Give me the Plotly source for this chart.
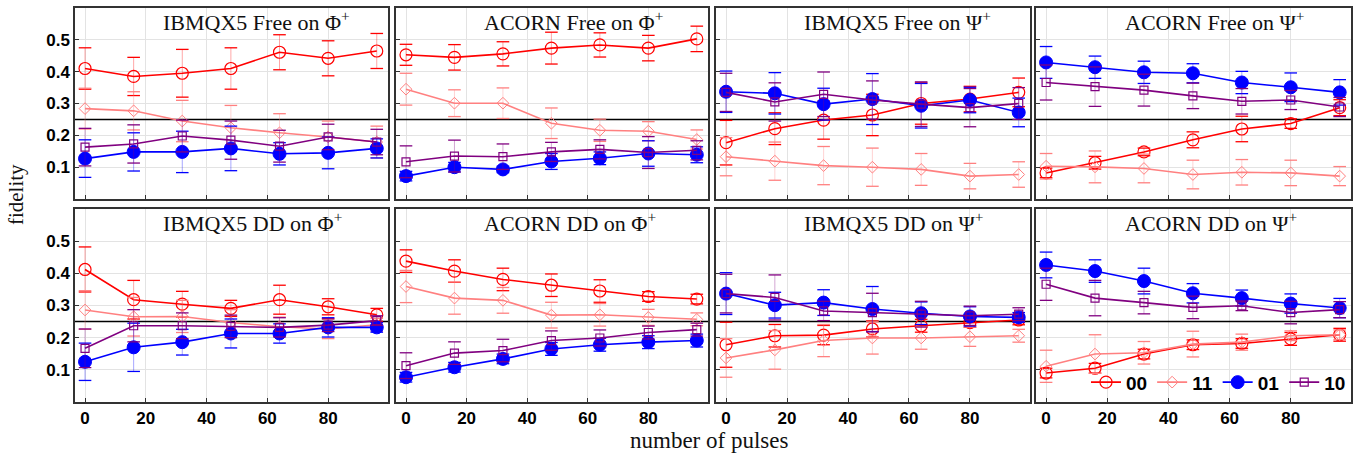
import plotly.graph_objects as go

pulses = [0, 16, 32, 48, 64, 80, 96]

panel_titles = [
    "IBMQX5 Free on Φ<sup>+</sup>", "ACORN Free on Φ<sup>+</sup>",
    "IBMQX5 Free on Ψ<sup>+</sup>", "ACORN Free on Ψ<sup>+</sup>",
    "IBMQX5 DD on Φ<sup>+</sup>", "ACORN DD on Φ<sup>+</sup>",
    "IBMQX5 DD on Ψ<sup>+</sup>", "ACORN DD on Ψ<sup>+</sup>",
]

fid_00 = [
    [0.410, 0.385, 0.395, 0.410, 0.461, 0.442, 0.465],
    [0.453, 0.445, 0.456, 0.474, 0.484, 0.474, 0.503],
    [0.177, 0.221, 0.248, 0.264, 0.300, 0.314, 0.335],
    [0.082, 0.114, 0.148, 0.186, 0.220, 0.237, 0.287],
    [0.412, 0.318, 0.304, 0.291, 0.318, 0.296, 0.271],
    [0.438, 0.407, 0.381, 0.363, 0.345, 0.328, 0.320],
    [0.178, 0.206, 0.208, 0.227, 0.237, 0.247, 0.255],
    [0.090, 0.105, 0.149, 0.178, 0.182, 0.196, 0.209],
]
err_00 = [
    [0.065, 0.060, 0.075, 0.065, 0.055, 0.055, 0.055],
    [0.033, 0.040, 0.038, 0.050, 0.038, 0.040, 0.040],
    [0.070, 0.050, 0.060, 0.065, 0.065, 0.040, 0.045],
    [0.015, 0.020, 0.012, 0.025, 0.040, 0.015, 0.025],
    [0.070, 0.060, 0.040, 0.025, 0.045, 0.025, 0.020],
    [0.035, 0.035, 0.035, 0.035, 0.035, 0.015, 0.015],
    [0.070, 0.035, 0.030, 0.025, 0.020, 0.015, 0.015],
    [0.015, 0.015, 0.015, 0.015, 0.015, 0.020, 0.020],
]
fid_11 = [
    [0.284, 0.277, 0.245, 0.224, 0.208, 0.195, 0.179],
    [0.345, 0.301, 0.301, 0.238, 0.216, 0.213, 0.187],
    [0.133, 0.119, 0.105, 0.100, 0.093, 0.072, 0.077],
    [0.103, 0.101, 0.096, 0.077, 0.084, 0.082, 0.072],
    [0.286, 0.265, 0.266, 0.247, 0.234, 0.227, 0.240],
    [0.359, 0.323, 0.316, 0.270, 0.271, 0.263, 0.257],
    [0.137, 0.162, 0.191, 0.199, 0.199, 0.203, 0.206],
    [0.111, 0.149, 0.153, 0.180, 0.186, 0.206, 0.209],
]
err_11 = [
    [0.064, 0.060, 0.065, 0.070, 0.060, 0.050, 0.050],
    [0.050, 0.042, 0.048, 0.048, 0.035, 0.030, 0.030],
    [0.060, 0.060, 0.060, 0.060, 0.050, 0.040, 0.040],
    [0.040, 0.050, 0.045, 0.045, 0.040, 0.040, 0.030],
    [0.060, 0.060, 0.050, 0.040, 0.030, 0.030, 0.020],
    [0.050, 0.050, 0.040, 0.040, 0.035, 0.025, 0.020],
    [0.060, 0.060, 0.050, 0.050, 0.035, 0.030, 0.020],
    [0.050, 0.060, 0.035, 0.040, 0.025, 0.015, 0.015],
]
fid_01 = [
    [0.127, 0.148, 0.148, 0.159, 0.142, 0.145, 0.159],
    [0.072, 0.100, 0.093, 0.118, 0.128, 0.143, 0.139],
    [0.337, 0.332, 0.298, 0.314, 0.293, 0.311, 0.272],
    [0.429, 0.414, 0.398, 0.395, 0.366, 0.351, 0.335],
    [0.125, 0.170, 0.186, 0.213, 0.213, 0.232, 0.232],
    [0.077, 0.108, 0.134, 0.165, 0.178, 0.186, 0.191],
    [0.337, 0.301, 0.309, 0.289, 0.276, 0.266, 0.263],
    [0.426, 0.407, 0.376, 0.338, 0.323, 0.306, 0.292],
]
err_01 = [
    [0.059, 0.060, 0.065, 0.070, 0.035, 0.050, 0.030],
    [0.015, 0.015, 0.010, 0.025, 0.020, 0.040, 0.025],
    [0.065, 0.065, 0.050, 0.080, 0.070, 0.040, 0.045],
    [0.050, 0.035, 0.035, 0.030, 0.035, 0.045, 0.040],
    [0.058, 0.075, 0.040, 0.045, 0.030, 0.030, 0.015],
    [0.015, 0.015, 0.015, 0.020, 0.020, 0.020, 0.020],
    [0.065, 0.040, 0.040, 0.070, 0.035, 0.030, 0.015],
    [0.040, 0.035, 0.040, 0.030, 0.025, 0.030, 0.030],
]
fid_10 = [
    [0.163, 0.173, 0.198, 0.185, 0.166, 0.195, 0.179],
    [0.117, 0.135, 0.133, 0.148, 0.156, 0.146, 0.153],
    [0.335, 0.305, 0.329, 0.311, 0.298, 0.287, 0.300],
    [0.366, 0.353, 0.342, 0.324, 0.307, 0.311, 0.289],
    [0.167, 0.237, 0.237, 0.235, 0.232, 0.239, 0.253],
    [0.113, 0.152, 0.160, 0.191, 0.199, 0.216, 0.225],
    [0.337, 0.325, 0.283, 0.278, 0.273, 0.268, 0.273],
    [0.366, 0.323, 0.309, 0.294, 0.299, 0.278, 0.287],
]
err_10 = [
    [0.059, 0.060, 0.050, 0.060, 0.050, 0.040, 0.040],
    [0.050, 0.050, 0.040, 0.030, 0.030, 0.050, 0.030],
    [0.060, 0.060, 0.070, 0.060, 0.070, 0.060, 0.050],
    [0.055, 0.062, 0.050, 0.040, 0.040, 0.030, 0.030],
    [0.060, 0.050, 0.040, 0.035, 0.030, 0.020, 0.015],
    [0.040, 0.035, 0.035, 0.030, 0.025, 0.020, 0.020],
    [0.060, 0.070, 0.030, 0.060, 0.040, 0.030, 0.020],
    [0.050, 0.055, 0.035, 0.035, 0.015, 0.035, 0.025],
]

series = [
    ("00", fid_00, err_00, "#ff0000", "rgba(255,0,0,0.35)", "circle-open", 12, 1.2),
    ("11", fid_11, err_11, "#ff8080", "rgba(255,128,128,0.35)", "diamond-open", 9, 1.0),
    ("01", fid_01, err_01, "#0000ff", "rgba(0,0,255,0.35)", "circle", 13, 1.0),
    ("10", fid_10, err_10, "#800080", "rgba(128,0,128,0.35)", "square-open", 8, 1.2),
]

W, H = 1362, 454
ML, MR, MT, MB = 75, 11, 6, 52
PW, PH = W - ML - MR, H - MT - MB
col_px = [(0, 313), (321, 633), (641, 955), (961, 1276)]
row_px = [(0, 192), (202, 396)]

fig = go.Figure()
layout = {}
for p in range(8):
    r, c = divmod(p, 4)
    k = "" if p == 0 else str(p + 1)
    xd = [col_px[c][0] / PW, col_px[c][1] / PW]
    yd = [1 - row_px[r][1] / PH, 1 - row_px[r][0] / PH]
    axcommon = dict(showline=True, mirror=True, linecolor="#333333", linewidth=1.5,
                    showgrid=True, gridcolor="#e3e3e3", gridwidth=1, zeroline=False,
                    ticks="inside", ticklen=4, tickcolor="#333333",
                    tickfont=dict(family="Liberation Sans", size=17, color="black", weight="bold"))
    layout["xaxis" + k] = dict(axcommon, domain=xd, range=[-3.3, 99.7],
                               tickvals=[0, 20, 40, 60, 80], showticklabels=(r == 1),
                               anchor="y" + k)
    layout["yaxis" + k] = dict(axcommon, domain=yd, range=[0, 0.6],
                               tickvals=[0.1, 0.2, 0.3, 0.4, 0.5],
                               ticktext=["0.1", "0.2", "0.3", "0.4", "0.5"],
                               showticklabels=(c == 0), anchor="x" + k)
    xa, ya = "x" + k, "y" + k
    # reference line at 0.25
    fig.add_trace(go.Scatter(x=[-3.3, 99.7], y=[0.25, 0.25], mode="lines",
                             line=dict(color="black", width=1.5), xaxis=xa, yaxis=ya,
                             showlegend=False, hoverinfo="skip"))
    for name, fid, err, col, fcol, sym, size, lw in series:
        y = fid[p]
        e = err[p]
        fig.add_trace(go.Scatter(
            x=pulses, y=y, mode="lines+markers", name="<b>" + name + "</b>",
            legendgroup=name, showlegend=(p == 0),
            line=dict(color=col, width=1.6),
            marker=dict(symbol=sym, size=size, color=col, line=dict(color=col, width=lw)),
            error_y=dict(type="data", array=e, visible=True, color=fcol, thickness=1, width=0),
            xaxis=xa, yaxis=ya))
        caps_x = pulses + pulses
        caps_y = [v + d for v, d in zip(y, e)] + [v - d for v, d in zip(y, e)]
        fig.add_trace(go.Scatter(
            x=caps_x, y=caps_y, mode="markers", showlegend=False, hoverinfo="skip",
            legendgroup=name,
            marker=dict(symbol="line-ew", size=9, color=col, line=dict(color=col, width=1.3)),
            xaxis=xa, yaxis=ya))
    layout.setdefault("annotations", []).append(dict(
        x=25, y=0.558, xref=xa, yref=ya, text=panel_titles[p], showarrow=False,
        xanchor="left", yanchor="middle",
        font=dict(family="Liberation Serif", size=22, color="#111111")))

layout["annotations"] += [
    dict(x=0.5 + (709 - 713) / PW, y=-(441 - 402) / PH, xref="paper", yref="paper",
         text="number of pulses", showarrow=False, xanchor="center", yanchor="middle",
         font=dict(family="Liberation Serif", size=23, color="#111111")),
    dict(x=-(ML - 16) / PW, y=1 - (194 - MT) / PH, xref="paper", yref="paper", text="fidelity",
         showarrow=False, textangle=-90, xanchor="center", yanchor="middle",
         font=dict(family="Liberation Serif", size=21, color="#111111")),
]

fig.update_layout(
    width=W, height=H, margin=dict(l=ML, r=MR, t=MT, b=MB),
    paper_bgcolor="white", plot_bgcolor="white",
    legend=dict(orientation="h", x=1.0, xanchor="right", y=(402 - 381) / PH - 0.003,
                yanchor="middle", bgcolor="rgba(0,0,0,0)",
                font=dict(family="Liberation Sans", size=19, color="black"),
                itemwidth=30, tracegroupgap=0),
    **layout,
)

fig.write_html("out.html")
